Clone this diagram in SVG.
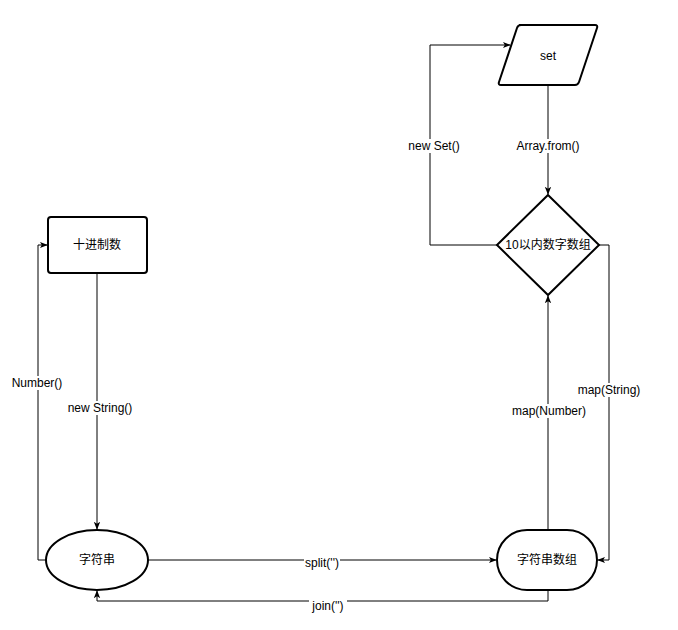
<svg xmlns="http://www.w3.org/2000/svg" width="678" height="630" viewBox="0 0 678 630">
<style>
.node{fill:#fff;stroke:#000;stroke-width:2}
.edge{fill:none;stroke:#000;stroke-width:1}
.t{font-family:"Liberation Sans","Noto Sans CJK SC",sans-serif;font-size:12px;fill:#000;text-anchor:middle;dominant-baseline:central}
.lbl{fill:#fff}
</style>
<defs>
<marker id="arr" viewBox="0 0 10 10" refX="9" refY="5" markerWidth="8" markerHeight="8" orient="auto" markerUnits="userSpaceOnUse">
<path d="M0,1 L10,5 L0,9 L2.5,5 Z" fill="#000"/>
</marker>
</defs>
<rect width="678" height="630" fill="#fff"/>
<g id="connectors">
<path class="edge" d="M548,85 L548,194" marker-end="url(#arr)"/>
<path class="edge" d="M497,245 L430,245 L430,45 L510,45" marker-end="url(#arr)"/>
<path class="edge" d="M599,245 L609,245 L609,560 L598,560" marker-end="url(#arr)"/>
<path class="edge" d="M548,530 L548,296" marker-end="url(#arr)"/>
<path class="edge" d="M148,560 L496,560" marker-end="url(#arr)"/>
<path class="edge" d="M548,590 L548,601 L97,601 L97,591" marker-end="url(#arr)"/>
<path class="edge" d="M46,560 L38,560 L38,245 L47,245" marker-end="url(#arr)"/>
<path d="M97,273 L97,402" fill="none" stroke="#808080" stroke-width="2"/>
<path class="edge" d="M97,402 L97,529" marker-end="url(#arr)"/>
<rect class="lbl" x="521" y="139" width="55" height="14"/>
<text class="t" x="548" y="146">Array.from()</text>
<rect class="lbl" x="407" y="139" width="53" height="14"/>
<text class="t" x="434" y="146">new Set()</text>
<rect class="lbl" x="577" y="383" width="64" height="14"/>
<text class="t" x="609" y="390">map(String)</text>
<rect class="lbl" x="513" y="404" width="73" height="14"/>
<text class="t" x="549" y="411">map(Number)</text>
<rect class="lbl" x="304" y="556" width="36" height="14"/>
<text class="t" x="322" y="563">split('')</text>
<rect class="lbl" x="309" y="599" width="38" height="14"/>
<text class="t" x="328" y="606">join('')</text>
<rect class="lbl" x="11" y="376" width="52" height="14"/>
<text class="t" x="37" y="383">Number()</text>
<rect class="lbl" x="67" y="401" width="66" height="14"/>
<text class="t" x="100" y="408">new String()</text>
</g>
<g id="set">
<path class="node" d="M519,25 L595,25 Q598,25 597,28 L579,82 Q578,85 575,85 L501,85 Q498,85 499,82 L517,28 Q518,25 521,25 Z"/>
<text class="t" x="548" y="56">set</text>
</g>
<g id="array10">
<path class="node" d="M548,195 L599,245 L548,295 L497,245 Z"/>
<text class="t" x="548" y="245">10以内数字数组</text>
</g>
<g id="decimal">
<rect class="node" x="48" y="217" width="99" height="56" rx="3"/>
<text class="t" x="97" y="245">十进制数</text>
</g>
<g id="string">
<ellipse class="node" cx="97" cy="560" rx="51" ry="30"/>
<text class="t" x="97" y="560">字符串</text>
</g>
<g id="strarray">
<rect class="node" x="497" y="530" width="100" height="60" rx="30"/>
<text class="t" x="547" y="560">字符串数组</text>
</g>
</svg>
